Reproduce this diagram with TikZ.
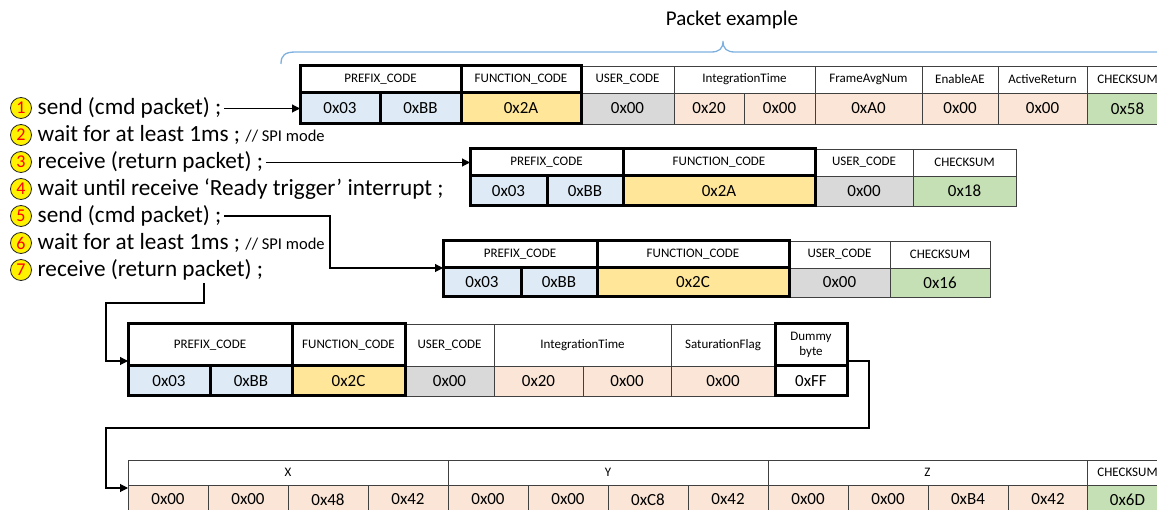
\documentclass[tikz,border=0pt]{standalone}
\usepackage{fontspec}
\setmainfont{Carlito}
\usetikzlibrary{arrows.meta}
\definecolor{cblue}{HTML}{DEEBF7}
\definecolor{cyel}{HTML}{FFE699}
\definecolor{cgray}{HTML}{D9D9D9}
\definecolor{cpeach}{HTML}{FBE5D6}
\definecolor{cgreen}{HTML}{C5E0B4}
\definecolor{cbrace}{HTML}{7EB0DE}
\definecolor{cline}{HTML}{404040}
\newcommand\cel[7]{\node[cel,#6,minimum width={(#4)-(#2)},minimum height={(#5)-(#3)}] (#1) at ({((#2)+(#4))/2},{((#3)+(#5))/2}) {#7};}
\begin{document}
\begin{tikzpicture}[x=1pt,y=-1pt,
  cel/.style={draw=cline, line width=0.8pt, inner sep=0pt, outer sep=0pt, align=center},
  hd/.style={fill=white, font=\fontsize{13}{15}\selectfont},
  vl/.style={font=\fontsize{17}{19}\selectfont},
  bu/.style={vl, fill=cblue},
  ye/.style={vl, fill=cyel},
  gy/.style={vl, fill=cgray},
  pc/.style={vl, fill=cpeach},
  gn/.style={vl, fill=cgreen},
  wh/.style={vl, fill=white},
  thk/.style={draw=black, line width=3pt},
  lbl/.style={anchor=base west, inner sep=2.5pt, font=\fontsize{23.2}{27}\selectfont},
  num/.style={circle, draw=black!85, line width=0.8pt, fill=yellow, text=red, minimum size=21pt, inner sep=0pt, font=\fontsize{18}{18}\selectfont},
  arr/.style={draw=black, line width=1.1pt, -{Triangle[length=8pt,width=8pt]}},
  cmt/.style={font=\fontsize{16}{18}\selectfont}
]
\useasboundingbox (0,0) rectangle (1157,510);
\clip (0,0) rectangle (1157,510);

% title and brace
\node[font=\fontsize{21}{24}\selectfont] (title) at (732,20) {Packet example};
\draw[cbrace, line width=1.3pt] (281,64) .. controls (281,55) and (285,52) .. (296,52) -- (711,52)
  .. controls (719,52) and (723,49) .. (723,41) .. controls (723,49) and (727,52) .. (735,52) -- (1165,52);

% left steps
\foreach \i in {1,...,7}{
  \node[num] (c\i) at (21,{115+27*(\i-1)-7}) {\i};
}
\node[lbl] (l1) at (35,115) {send (cmd packet) ;};
\node[lbl] (l2) at (35,142) {wait for at least 1ms ; {\fontsize{16.5}{18}\selectfont // SPI mode}};
\node[lbl] (l3) at (35,169) {receive (return packet) ;};
\node[lbl] (l4) at (35,196) {wait until receive ‘Ready trigger’ interrupt ;};
\node[lbl] (l5) at (35,223) {send (cmd packet) ;};
\node[lbl] (l6) at (35,250) {wait for at least 1ms ; {\fontsize{16.5}{18}\selectfont // SPI mode}};
\node[lbl] (l7) at (35,277) {receive (return packet) ;};

% packet 1
\cel{p1hc}{581}{66}{674}{93}{hd}{USER\_CODE}
\cel{p1hd}{674}{66}{815}{93}{hd}{IntegrationTime}
\cel{p1he}{815}{66}{922}{93}{hd}{FrameAvgNum}
\cel{p1hf}{922}{66}{998}{93}{hd}{EnableAE}
\cel{p1hg}{998}{66}{1087}{93}{hd}{ActiveReturn}
\cel{p1hh}{1087}{66}{1168}{93}{hd}{CHECKSUM}
\cel{p1vd}{581}{93}{674}{124}{gy}{0x00}
\cel{p1ve}{674}{93}{744}{124}{pc}{0x20}
\cel{p1vf}{744}{93}{815}{124}{pc}{0x00}
\cel{p1vg}{815}{93}{922}{124}{pc}{0xA0}
\cel{p1vh}{922}{93}{998}{124}{pc}{0x00}
\cel{p1vi}{998}{93}{1087}{124}{pc}{0x00}
\cel{p1vj}{1087}{93}{1168}{124}{gn}{0x58}
\cel{p1ha}{300}{66}{461}{93}{hd,thk}{PREFIX\_CODE}
\cel{p1hb}{461}{66}{581}{93}{hd,thk}{FUNCTION\_CODE}
\cel{p1va}{300}{93}{380}{124}{bu,thk}{0x03}
\cel{p1vb}{380}{93}{461}{124}{bu,thk}{0xBB}
\cel{p1vc}{461}{93}{581}{124}{ye,thk}{0x2A}

% packet 2
\cel{p2hc}{815}{149}{913}{176}{hd}{USER\_CODE}
\cel{p2hd}{913}{149}{1016}{176}{hd}{CHECKSUM}
\cel{p2vd}{815}{176}{913}{206}{gy}{0x00}
\cel{p2ve}{913}{176}{1016}{206}{gn}{0x18}
\cel{p2ha}{470}{149}{623}{176}{hd,thk}{PREFIX\_CODE}
\cel{p2hb}{623}{149}{815}{176}{hd,thk}{FUNCTION\_CODE}
\cel{p2va}{470}{176}{547}{206}{bu,thk}{0x03}
\cel{p2vb}{547}{176}{623}{206}{bu,thk}{0xBB}
\cel{p2vc}{623}{176}{815}{206}{ye,thk}{0x2A}

% packet 3
\cel{p3hc}{789}{241}{890}{268}{hd}{USER\_CODE}
\cel{p3hd}{890}{241}{990}{268}{hd}{CHECKSUM}
\cel{p3vd}{789}{268}{890}{297}{gy}{0x00}
\cel{p3ve}{890}{268}{990}{297}{gn}{0x16}
\cel{p3ha}{443}{241}{597}{268}{hd,thk}{PREFIX\_CODE}
\cel{p3hb}{597}{241}{789}{268}{hd,thk}{FUNCTION\_CODE}
\cel{p3va}{443}{268}{521}{297}{bu,thk}{0x03}
\cel{p3vb}{521}{268}{597}{297}{bu,thk}{0xBB}
\cel{p3vc}{597}{268}{789}{297}{ye,thk}{0x2C}

% packet 4
\cel{p4hc}{405}{324}{494}{366}{hd}{USER\_CODE}
\cel{p4hd}{494}{324}{671}{366}{hd}{IntegrationTime}
\cel{p4he}{671}{324}{775}{366}{hd}{SaturationFlag}
\cel{p4vd}{405}{366}{494}{396}{gy}{0x00}
\cel{p4ve}{494}{366}{583}{396}{pc}{0x20}
\cel{p4vf}{583}{366}{671}{396}{pc}{0x00}
\cel{p4vg}{671}{366}{775}{396}{pc}{0x00}
\cel{p4ha}{128}{324}{292}{366}{hd,thk}{PREFIX\_CODE}
\cel{p4hb}{292}{324}{405}{366}{hd,thk}{FUNCTION\_CODE}
\cel{p4hf}{775}{324}{847}{366}{hd,thk}{Dummy\\byte}
\cel{p4va}{128}{366}{210}{396}{bu,thk}{0x03}
\cel{p4vb}{210}{366}{292}{396}{bu,thk}{0xBB}
\cel{p4vc}{292}{366}{405}{396}{ye,thk}{0x2C}
\cel{p4vh}{775}{366}{847}{396}{wh,thk}{0xFF}

% packet 5
\cel{p5ha}{128}{460}{448}{485}{hd}{X}
\cel{p5hb}{448}{460}{768}{485}{hd}{Y}
\cel{p5hc}{768}{460}{1087}{485}{hd}{Z}
\cel{p5hd}{1087}{460}{1168}{485}{hd}{CHECKSUM}
\foreach \v [count=\i] in {0x00,0x00,0x48,0x42,0x00,0x00,0xC8,0x42,0x00,0x00,0xB4,0x42}{
  \cel{p5v\i}{128+80*(\i-1)}{485}{128+80*\i}{514}{pc}{\v}
}
\cel{p5vm}{1087}{485}{1168}{514}{gn}{0x6D}

% connectors
\draw[arr] (l1.east |- p1va.west) -- (p1va.west);
\draw[arr] (l3.east |- p2ha.west) -- (p2ha.west);
\coordinate (k5) at (330,268);
\draw[arr] (l5.east |- c5) -| (k5) -- (p3va.north west);
\coordinate (k7) at (204,283);
\coordinate (k7b) at (106,303);
\coordinate (k7c) at (0,361);
\draw[arr] (k7) |- (k7b) |- (p4ha.west |- k7c);
\coordinate (k8) at (869,361);
\coordinate (k9) at (106,428);
\coordinate (k10) at (0,488);
\draw[arr] (p4hf.east |- k8) -- (k8) |- (k9) |- (p5v1.west |- k10);
\end{tikzpicture}
\end{document}
